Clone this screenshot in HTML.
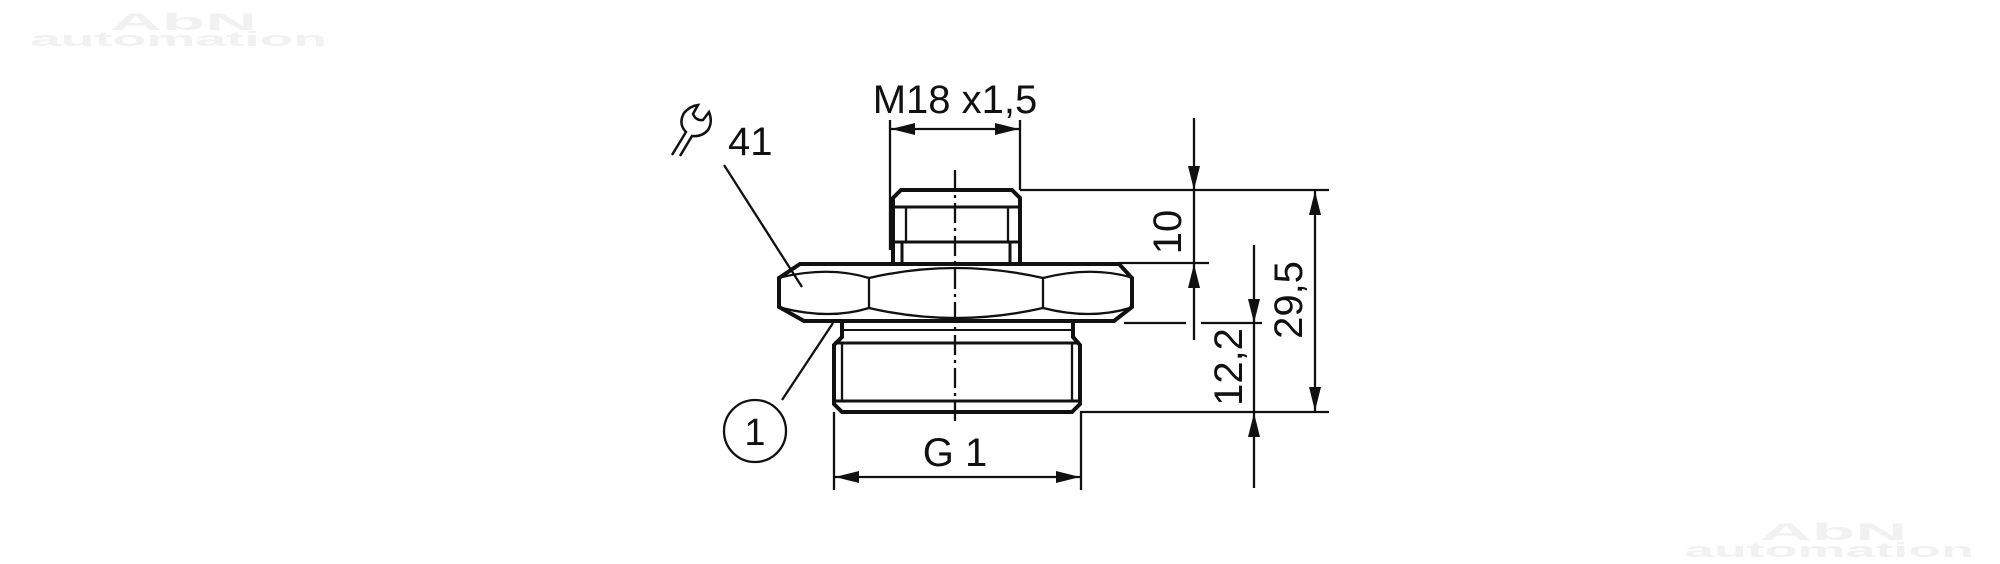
<!DOCTYPE html>
<html><head><meta charset="utf-8"><style>
html,body{margin:0;padding:0;background:#fff;width:2000px;height:564px;overflow:hidden}
svg{display:block}
text{font-family:"Liberation Sans",sans-serif}
.t{fill:#111}
.w{fill:#f1f1f1;font-weight:bold}
</style></head><body>
<svg width="2000" height="564" viewBox="0 0 2000 564" xmlns="http://www.w3.org/2000/svg">
<defs>
<marker id="a" viewBox="0 0 24 12" refX="24" refY="6" markerWidth="24" markerHeight="12" markerUnits="userSpaceOnUse" orient="auto-start-reverse"><path d="M0,0 L24,6 L0,12 Z" fill="#111"/></marker>
</defs>
<!-- watermarks -->
<text class="w" x="110" y="30" font-size="24" textLength="147" lengthAdjust="spacingAndGlyphs">AbN</text>
<text class="w" x="30" y="46" font-size="20" textLength="297" lengthAdjust="spacingAndGlyphs">automation</text>
<text class="w" x="1760" y="540" font-size="24" textLength="147" lengthAdjust="spacingAndGlyphs">AbN</text>
<text class="w" x="1684" y="557" font-size="20" textLength="290" lengthAdjust="spacingAndGlyphs">automation</text>
<g stroke="#111" fill="none" stroke-width="2.3">
<!-- M18 dim -->
<line x1="890" y1="120" x2="890" y2="250"/>
<line x1="1020" y1="120" x2="1020" y2="190"/>
<line x1="891" y1="129" x2="955" y2="129" marker-start="url(#a)"/>
<line x1="955" y1="129" x2="1019" y2="129" marker-end="url(#a)"/>
<!-- centerline -->
<line x1="955" y1="170" x2="955" y2="424" stroke-dasharray="20,5,3,5"/>
<!-- pin -->
<path d="M893,263 L893,198 L901,190 L1012,190 L1020,198 L1020,263" stroke-width="4"/>
<line x1="893" y1="207" x2="1020" y2="207" stroke-width="3"/>
<line x1="893" y1="242" x2="1020" y2="242" stroke-width="3"/>
<line x1="906" y1="207" x2="906" y2="242"/>
<line x1="1008" y1="207" x2="1008" y2="242"/>
<line x1="902" y1="242" x2="902" y2="263" stroke-width="3"/>
<line x1="1010" y1="242" x2="1010" y2="263" stroke-width="3"/>
<!-- hex -->
<path d="M800,264 L1119,264 L1132,278 L1132,307 L1114,321 L804,321 L779,307 L779,278 Z" stroke-width="4"/>
<line x1="869" y1="278" x2="869" y2="308"/>
<line x1="1043" y1="278" x2="1043" y2="308"/>
<path d="M869,278 Q955,258 1043,278"/>
<path d="M869,308 Q955,328 1043,308"/>
<path d="M782,277 Q830,266 869,278"/>
<path d="M782,308 Q830,320 869,308"/>
<path d="M1043,278 Q1090,266 1130,277"/>
<path d="M1043,308 Q1090,320 1130,308"/>
<!-- thread -->
<path d="M842,323 L842,337 L834,345 L834,404 L842,412 L1072,412 L1080,404 L1080,345 L1073,337 L1073,323" stroke-width="4"/>
<line x1="842" y1="330" x2="1073" y2="330" stroke-width="2"/>
<line x1="834" y1="343" x2="1080" y2="343" stroke-width="3"/>
<line x1="834" y1="401" x2="1080" y2="401" stroke-width="3"/>
<line x1="842" y1="343" x2="842" y2="401"/>
<line x1="1072" y1="343" x2="1072" y2="401"/>
<!-- extension lines right -->
<line x1="1020" y1="190" x2="1329" y2="190"/>
<line x1="1119" y1="263" x2="1209" y2="263"/>
<line x1="1124" y1="323" x2="1186" y2="323"/>
<line x1="1201" y1="323" x2="1262" y2="323"/>
<line x1="1080" y1="412" x2="1329" y2="412"/>
<!-- dim 10 -->
<line x1="1194" y1="118" x2="1194" y2="190" marker-end="url(#a)"/>
<line x1="1194" y1="340" x2="1194" y2="264" marker-end="url(#a)"/>
<line x1="1194" y1="190" x2="1194" y2="264"/>
<!-- dim 12,2 -->
<line x1="1254" y1="245" x2="1254" y2="323" marker-end="url(#a)"/>
<line x1="1254" y1="488" x2="1254" y2="413" marker-end="url(#a)"/>
<line x1="1254" y1="323" x2="1254" y2="412"/>
<!-- dim 29,5 -->
<line x1="1315" y1="301" x2="1315" y2="191" marker-end="url(#a)"/>
<line x1="1315" y1="301" x2="1315" y2="411" marker-end="url(#a)"/>
<!-- G1 dim -->
<line x1="834" y1="412" x2="834" y2="490"/>
<line x1="1081" y1="412" x2="1081" y2="490"/>
<line x1="957" y1="477" x2="835" y2="477" marker-end="url(#a)"/>
<line x1="957" y1="477" x2="1080" y2="477" marker-end="url(#a)"/>
<!-- leaders -->
<line x1="724" y1="165" x2="802" y2="287"/>
<line x1="782" y1="400" x2="833" y2="323"/>
<circle cx="755" cy="431" r="31"/>
<!-- wrench -->
<path d="M672,155 L686,132 Q678,124 684,113 Q690,106 698,105 L693,114 Q696,121 703,120 L709,112 Q713,122 708,130 Q702,137 692,136 L680,156" stroke-width="2.5"/>
</g>
<text class="t" x="955" y="113" font-size="40" text-anchor="middle">M18 x1,5</text>
<text class="t" x="728" y="155" font-size="40">41</text>
<text class="t" x="955" y="466" font-size="40" text-anchor="middle">G 1</text>
<text class="t" x="755" y="445" font-size="38" text-anchor="middle">1</text>
<text class="t" transform="translate(1181,232) rotate(-90)" font-size="40" text-anchor="middle">10</text>
<text class="t" transform="translate(1302,300) rotate(-90)" font-size="40" text-anchor="middle">29,5</text>
<text class="t" transform="translate(1242,367) rotate(-90)" font-size="40" text-anchor="middle">12,2</text>
</svg>
</body></html>
